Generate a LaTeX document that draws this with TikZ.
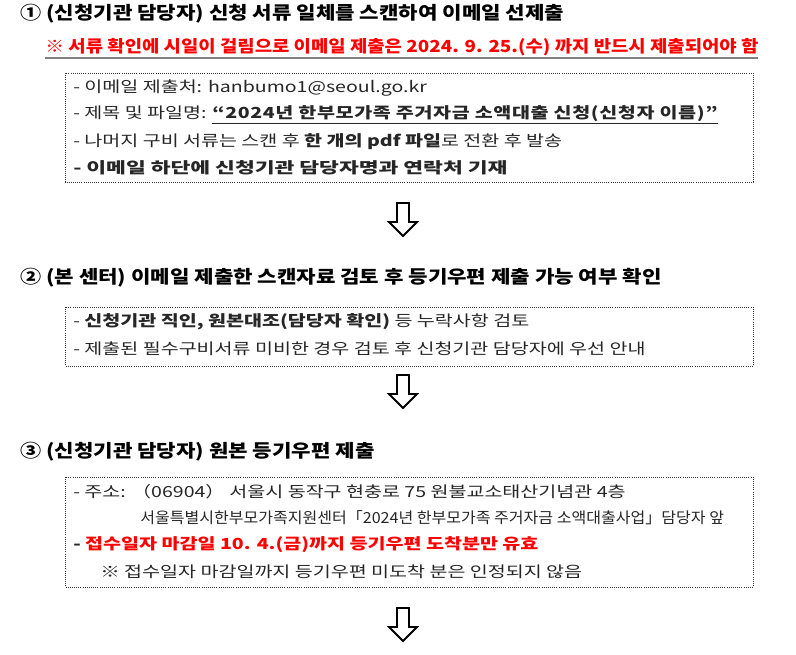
\documentclass[tikz,border=0pt]{standalone}
\usepackage{fontspec}
\setmainfont{Noto Sans CJK KR}
\newfontfamily\titlefont{Noto Sans CJK KR}[FakeStretch=1.18]
\newfontfamily\notefont{Noto Sans CJK KR}[FakeStretch=1.135]
\newfontfamily\itemfont{Noto Sans CJK KR}[FakeStretch=1.28]
\newfontfamily\wideitemfont{Noto Sans CJK KR}[FakeStretch=1.41]
\newfontfamily\addrfont{Noto Sans CJK KR}[FakeStretch=1.05]
\usepackage{tikz}
\usetikzlibrary{positioning}

\begin{document}
\begin{tikzpicture}[
  x=0.02646cm, y=-0.02646cm,
  steptitle/.style={anchor=west, inner sep=0pt, font=\titlefont\fontsize{13.5}{16}\selectfont\bfseries},
  note/.style={anchor=west, inner sep=0pt, text=red, font=\notefont\fontsize{12.5}{15}\selectfont\bfseries},
  item/.style={anchor=west, inner sep=0pt, text=black!85, font=\itemfont\fontsize{11.5}{14}\selectfont},
  wideitem/.style={item, font=\wideitemfont\fontsize{11.5}{14}\selectfont\bfseries},
  addr/.style={item, font=\addrfont\fontsize{11.5}{14}\selectfont},
  dotbox/.style={densely dotted, black!80, line width=0.6pt},
  downarrow/.style={draw=black, line width=1.4pt, fill=white, line join=miter}
]
\useasboundingbox (0,0) rectangle (796,654);

% Step 1
\node[steptitle] (t1) at (20,14) {① (신청기관 담당자) 신청 서류 일체를 스캔하여 이메일 선제출};
\node[note] (n1) at (45,47) {※ 서류 확인에 시일이 걸림으로 이메일 제출은 2024. 9. 25.(수) 까지 반드시 제출되어야 함};
\draw[black!50, line width=1.5pt] (45,58) -- (758,58);
\draw[dotbox] (65,73) rectangle (753,182);
\node[item] (b1a) at (73,88) {- 이메일 제출처: hanbumo1@seoul.go.kr};
\node[item] (b1b) at (73,115) {- 제목 및 파일명: {\bfseries\addfontfeature{LetterSpace=4}\underline{“2024년 한부모가족 주거자금 소액대출 신청(신청자 이름)”}}};
\node[item] (b1c) at (73,142) {- 나머지 구비 서류는 스캔 후 \textbf{한 개의 pdf 파일}로 전환 후 발송};
\node[wideitem] (b1d) at (73,168) {- 이메일 하단에 신청기관 담당자명과 연락처 기재};

% Step 2
\node[steptitle] (t2) at (20,278) {② (본 센터) 이메일 제출한 스캔자료 검토 후 등기우편 제출 가능 여부 확인};
\draw[dotbox] (65,307) rectangle (753,366);
\node[item] (b2a) at (73,322) {- \textbf{신청기관 직인, 원본대조(담당자 확인)} 등 누락사항 검토};
\node[item] (b2b) at (73,349) {- 제출된 필수구비서류 미비한 경우 검토 후 신청기관 담당자에 우선 안내};

% Step 3
\node[steptitle] (t3) at (20,452) {③ (신청기관 담당자) 원본 등기우편 제출};
\draw[dotbox] (65,477) rectangle (753,587);
\node[item] (b3a) at (73,492) {- 주소: （06904） 서울시 동작구 현충로 75 원불교소태산기념관 4층};
\node[addr] (b3b) at (140,518) {서울특별시한부모가족지원센터「2024년 한부모가족 주거자금 소액대출사업」담당자 앞};
\node[item] (b3c) at (73,545) {\textbf{- \textcolor{red}{접수일자 마감일 10. 4.(금)까지 등기우편 도착분만 유효}}};
\node[item] (b3d) at (100,572) {※ 접수일자 마감일까지 등기우편 미도착 분은 인정되지 않음};

% Hollow arrows
\foreach \ytop in {203, 375, 608} {
  \draw[downarrow] (397,\ytop) -- (409,\ytop) -- (409,\ytop+19) -- (417,\ytop+19)
    -- (403,\ytop+33) -- (389,\ytop+19) -- (397,\ytop+19) -- cycle;
}

\end{tikzpicture}
\end{document}
